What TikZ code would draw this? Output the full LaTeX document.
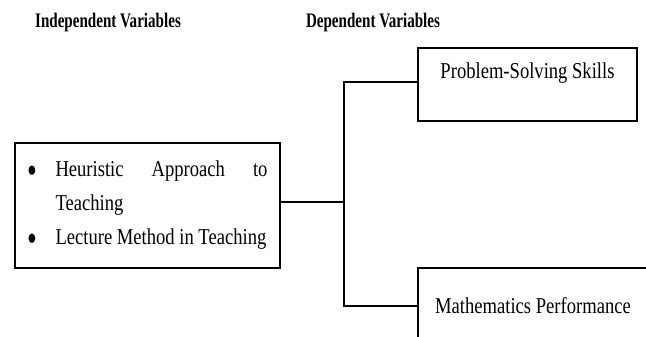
\documentclass[tikz,border=0pt]{standalone}
\usepackage{fontspec}
\setmainfont{Liberation Serif}
\newfontfamily\bodyfont{Liberation Serif}[FakeStretch=0.82]
\newfontfamily\headfont{Liberation Serif Bold}[FakeStretch=0.73]
\newcommand{\bigbullet}{\smash{\raisebox{-5pt}{\scalebox{1.5}[1.7]{\textbullet}}}}

\tikzset{every picture/.style={line width=0.9pt}}
\tikzset{
  headtext/.style={inner sep=0.75pt, font=\headfont\fontsize{15.5}{18}\selectfont},
  bodytext/.style={inner sep=0.75pt, font=\bodyfont\fontsize{17}{25.5}\selectfont},
  varbox/.style={draw, rectangle, inner sep=0pt, font=\bodyfont\fontsize{17}{25.5}\selectfont},
}

\begin{document}
\begin{tikzpicture}[x=0.75pt,y=0.75pt,yscale=-1,xscale=1]
%set diagram left start at 0, and has height of 336
\path [use as bounding box] (0,0) rectangle (646,336);

% Text Node
\node [headtext] (ivhead) at (108,23) {Independent Variables};
% Text Node
\node [headtext] (dvhead) at (373,23) {Dependent Variables};

%Shape: Rectangle
\node [varbox, minimum width=198.75pt, minimum height=93.75pt] (iv) at (147.5,205.5) {%
  \begin{minipage}{180pt}
  \makebox[21pt][l]{\bigbullet}Heuristic\hfill Approach\hfill to\\
  \hspace*{21pt}Teaching\\
  \makebox[21pt][l]{\bigbullet}Lecture Method in Teaching
  \end{minipage}};

%Shape: Rectangle
\node [varbox, minimum width=164.25pt, minimum height=54.75pt] (ps) at (527.5,84.5) {};
% Text Node
\node [bodytext] (pstext) at (527.5,73) {Problem-Solving Skills};

%Shape: Rectangle
\node [varbox, minimum width=172.5pt, minimum height=57pt] (mp) at (533,306) {Mathematics Performance};

%Straight Lines
\coordinate (split) at (344,202);
\draw (iv.east |- split) -- (split);
\draw (ps.west |- 0,82) -| (split) |- (mp.west);

\end{tikzpicture}
\end{document}
